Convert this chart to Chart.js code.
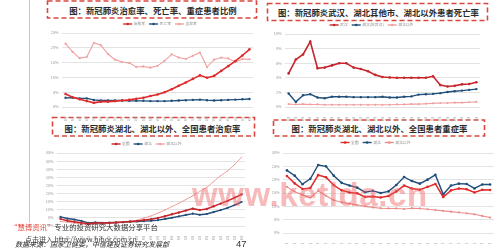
<!DOCTYPE html>
<html>
<head>
<meta charset="utf-8">
<script src="https://cdn.jsdelivr.net/npm/chart.js@4.4.1/dist/chart.umd.min.js"></script>
<style>
  html, body { margin: 0; padding: 0; background: #fff; }
  body { width: 500px; height: 252px; position: relative; overflow: hidden;
         font-family: "Noto Sans CJK SC", "DejaVu Sans", sans-serif; }
  canvas { position: absolute; }
  #deco { position: absolute; left: 0; top: 0; }
  .foot { position: absolute; white-space: nowrap; color: #333; }
  #mark { position: absolute; left: 192px; top: 176px; font: bold 33px "Liberation Sans", Arial, sans-serif;
          color: rgba(238, 100, 100, 0.45); letter-spacing: 0.6px; white-space: nowrap; }
</style>
</head>
<body>
<svg id="deco" width="500" height="252">
  <line x1="29.5" y1="0" x2="29.5" y2="223" stroke="#c8c8c8" stroke-width="1"/>
  <g fill="none" stroke="#d9473f" stroke-width="1.6" stroke-dasharray="5 3">
    <rect x="47.5" y="1" width="209" height="17"/>
    <rect x="267.5" y="3.5" width="220" height="17"/>
    <rect x="52.5" y="117.5" width="202" height="18.5"/>
    <rect x="273.5" y="120" width="211" height="16"/>
  </g>
  <g font-size="8.4" font-weight="bold" fill="#2b2b2b" text-anchor="middle" dominant-baseline="central">
    <text x="153" y="10">图：新冠肺炎治愈率、死亡率、重症患者比例</text>
    <text x="378.5" y="12.3">图：新冠肺炎武汉、湖北其他市、湖北以外患者死亡率</text>
    <text x="152.5" y="127.5">图：新冠肺炎湖北、湖北以外、全国患者治愈率</text>
    <text x="379.5" y="128.3">图：新冠肺炎湖北、湖北以外、全国患者重症率</text>
  </g>
</svg>
<canvas id="c1" width="230" height="102" style="left:30px;top:19px"></canvas>
<canvas id="c2" width="235" height="102" style="left:255px;top:19px"></canvas>
<canvas id="c3" width="225" height="102" style="left:25px;top:138px"></canvas>
<canvas id="c4" width="246" height="109" style="left:252px;top:135px"></canvas>
<div id="mark">www.ketlda.cn</div>
<div class="foot" style="left:10px;top:221px;font-size:7.4px;"><span style="color:#e2473c">“慧博资讯”</span>专业的投资研究大数据分享平台</div>
<div class="foot" style="left:25px;top:234px;font-size:7px;color:#444;">点击进入 http://www.hibor.com.cn</div>
<div class="foot" style="left:15px;top:239px;font-size:7px;font-style:italic;color:#222;">数据来源：国家卫健委，中信建投证券研究发展部</div>
<div class="foot" style="left:236px;top:238px;font-size:9.5px;font-family:'Liberation Sans',Arial,sans-serif;color:#333;">47</div>

<script>
const dates = ["1月23日", "1月24日", "1月25日", "1月26日", "1月27日", "1月28日", "1月29日",
  "1月30日", "1月31日", "2月1日", "2月2日", "2月3日", "2月4日", "2月5日", "2月6日", "2月7日",
  "2月8日", "2月9日", "2月10日", "2月11日", "2月12日", "2月13日", "2月14日", "2月15日",
  "2月16日", "2月17日", "2月18日"];

// national rates, %
const cureAll   = [4.4, 3.3, 2.6, 2.0, 1.4, 1.8, 1.8, 2.0, 2.2, 2.4, 2.8, 3.1, 3.7, 4.2, 5.0, 6.0,
  7.2, 8.3, 9.5, 10.7, 9.9, 10.5, 12.2, 13.8, 15.5, 17.4, 19.5];
const deathAll  = [3.1, 3.2, 2.9, 2.9, 2.4, 2.2, 2.2, 2.2, 2.2, 2.1, 2.1, 2.1, 2.0, 2.0, 2.0, 2.1,
  2.2, 2.3, 2.4, 2.5, 2.3, 2.2, 2.3, 2.4, 2.5, 2.6, 2.7];
const severeAll = [21.4, 18.6, 16.5, 16.9, 21.7, 20.9, 17.9, 16.0, 15.2, 14.9, 13.5, 13.7, 13.3, 13.9,
  15.6, 17.8, 16.7, 16.2, 17.3, 18.4, 13.5, 16.0, 16.7, 16.4, 15.2, 16.2, 16.1];

// death rate by region, %
const deathWuhan  = [4.6, 6.5, 7.2, 8.95, 5.3, 5.4, 5.7, 6.0, 6.0, 5.4, 5.2, 4.9, 4.4, 4.1, 4.05,
  4.0, 4.0, 4.0, 4.0, 4.0, 4.2, 3.0, 2.8, 2.9, 3.1, 3.15, 3.4];
const deathHubeiX = [1.85, 0.7, 1.6, 1.75, 1.3, 1.2, 1.4, 1.4, 1.4, 1.35, 1.35, 1.35, 1.35, 1.4,
  1.3, 1.3, 1.4, 1.45, 1.7, 1.75, 1.8, 1.9, 2.05, 2.15, 2.25, 2.35, 2.45];
const deathOut    = [0.4, 0.35, 0.4, 0.35, 0.35, 0.3, 0.3, 0.3, 0.3, 0.3, 0.3, 0.3, 0.3, 0.3, 0.3,
  0.35, 0.35, 0.4, 0.4, 0.45, 0.5, 0.55, 0.55, 0.6, 0.6, 0.65, 0.7];

// cure rate, %
const cureHubei = [5.6, 4.6, 4.0, 3.2, 1.9, 2.2, 2.0, 2.0, 2.2, 2.4, 2.6, 2.8, 3.0, 3.2, 3.6, 4.3,
  5.1, 5.9, 6.8, 7.6, 6.9, 7.4, 8.6, 9.8, 11.2, 12.9, 14.8];
const cureOut   = [2.8, 2.4, 1.8, 1.2, 1.0, 1.2, 1.3, 1.5, 1.8, 2.2, 3.0, 3.5, 4.9, 6.2, 8.0, 9.8,
  12.0, 14.0, 16.3, 18.6, 21.3, 23.8, 27.4, 31.0, 34.0, 37.8, 42.4];

// severe rate, %
const severeHubei = [23.5, 21.5, 18.3, 20.3, 25.5, 25.0, 21.5, 18.8, 17.8, 17.0, 15.3, 15.8, 15.0,
  15.6, 18.0, 21.0, 19.5, 18.5, 20.0, 21.8, 14.5, 17.8, 18.5, 18.4, 16.7, 18.2, 18.2];
const severeOut   = [17.3, 15.5, 14.3, 13.2, 15.8, 14.0, 12.3, 11.5, 11.0, 10.5, 10.0, 9.6, 9.3,
  9.2, 9.2, 9.0, 9.3, 9.2, 8.9, 8.6, 8.3, 8.0, 7.7, 7.4, 7.0, 6.4, 5.8];

const RED = "#e02a2a", DARKRED = "#c5262b", BLUE = "#1f4e79", PINK = "#f0a0a0";

Chart.defaults.font.family = '"Noto Sans CJK SC", "DejaVu Sans", sans-serif';
Chart.defaults.animation = false;

// small excel-like legend: line with a dot, then the label
const lineLegend = {
  id: "lineLegend",
  afterDraw(chart, args, opts) {
    const ctx = chart.ctx, a = chart.chartArea;
    ctx.save();
    ctx.font = opts.size + 'px "Noto Sans CJK SC"';
    const items = chart.data.datasets.map(d => ({ d, w: opts.mark + 1.5 + ctx.measureText(d.label).width }));
    const total = items.reduce((s, i) => s + i.w, 0) + opts.gap * (items.length - 1);
    let x = (a.left + a.right) / 2 + opts.dx - total / 2;
    const y = a.top - opts.dy;
    items.forEach(it => {
      ctx.strokeStyle = it.d.borderColor;
      ctx.fillStyle = it.d.borderColor;
      ctx.lineWidth = 1.4;
      ctx.beginPath();
      ctx.moveTo(x, y);
      ctx.lineTo(x + opts.mark, y);
      ctx.stroke();
      ctx.beginPath();
      ctx.arc(x + opts.mark / 2, y, 1.3, 0, Math.PI * 2);
      ctx.fill();
      ctx.fillStyle = "#8a8a8a";
      ctx.textBaseline = "middle";
      ctx.fillText(it.d.label, x + opts.mark + 1.5, y);
      x += it.w + opts.gap;
    });
    ctx.restore();
  }
};

function series(label, data, color, width, radius) {
  return {
    label, data, borderColor: color, backgroundColor: color,
    borderWidth: width, pointRadius: radius, pointBorderWidth: 0,
    pointBackgroundColor: color, tension: 0
  };
}

function makeChart(id, datasets, yMax, yStep, g) {
  return new Chart(document.getElementById(id), {
    type: "line",
    data: { labels: dates, datasets },
    plugins: [lineLegend],
    options: {
      responsive: false,
      layout: { padding: { top: g.top, right: g.right, left: 0, bottom: 0 } },
      plugins: {
        legend: { display: false },
        tooltip: { enabled: false },
        lineLegend: { size: 3.8, mark: 9, gap: 4, dx: g.dx, dy: g.dy }
      },
      scales: {
        x: {
          offset: true,
          grid: { display: false },
          border: { display: false },
          ticks: { autoSkip: false, minRotation: 90, maxRotation: 90, padding: 1.5,
                   font: { size: 3.2 }, color: "#999" },
          afterFit: s => { s.height = g.xh; }
        },
        y: {
          min: 0, max: yMax,
          grid: { color: "#dcdcdc", lineWidth: 0.8, drawTicks: false },
          border: { display: false },
          ticks: { stepSize: yStep, padding: 3.5, font: { size: 3.8 }, color: "#999",
                   callback: v => v + "%" },
          afterFit: s => { s.width = g.yw; }
        }
      }
    }
  });
}

makeChart("c1", [
  series("治愈率", cureAll, RED, 1.6, 1.3),
  series("死亡率", deathAll, BLUE, 1.3, 1.2),
  series("重症率", severeAll, PINK, 1.1, 1.1)
], 25, 5, { top: 14, right: 7, yw: 32, xh: 14, dx: 2.5, dy: 9 });

makeChart("c2", [
  series("武汉", deathWuhan, DARKRED, 1.6, 1.3),
  series("湖北(除武汉)", deathHubeiX, BLUE, 1.4, 1.2),
  series("湖北以外", deathOut, PINK, 1.1, 1.1)
], 10, 1, { top: 15, right: 10, yw: 30, xh: 14, dx: -11, dy: 9 });

makeChart("c3", [
  series("全国", cureAll, DARKRED, 1.5, 1.2),
  series("湖北", cureHubei, BLUE, 1.4, 1.1),
  series("湖北以外", cureOut, PINK, 1.0, 0.6)
], 45, 5, { top: 15, right: 5, yw: 32, xh: 14, dx: -4.5, dy: 9 });

makeChart("c4", [
  series("全国", severeAll, RED, 1.5, 1.3),
  series("湖北", severeHubei, BLUE, 1.4, 1.3),
  series("湖北以外", severeOut, "#ea8c8c", 1.1, 1.1)
], 30, 5, { top: 18, right: 4, yw: 31, xh: 11, dx: -13, dy: 10.5 });
</script>
</body>
</html>
